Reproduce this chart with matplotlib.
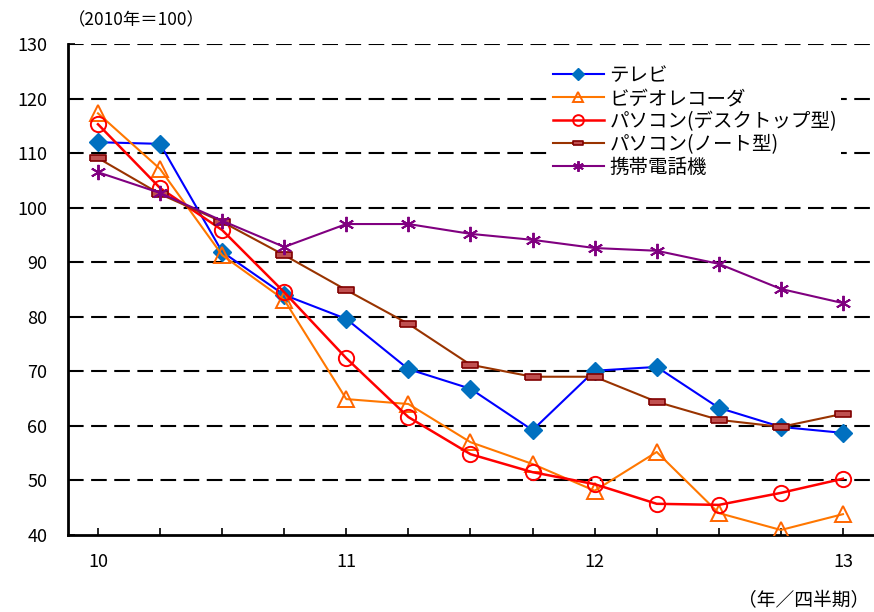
import numpy as np
import matplotlib
matplotlib.use('Agg')
import matplotlib.pyplot as plt

plt.rcParams['font.family'] = ['Noto Sans CJK JP', 'DejaVu Sans']

# quarters from 2010Q1 to 2013Q1
quarters = np.arange(13)
tick_labels = ['10', '', '', '', '11', '', '', '', '12', '', '', '', '13']

tv = [112.0, 111.7, 91.9, 84.0, 79.6, 70.4, 66.8, 59.2, 70.1, 70.8, 63.3, 59.8, 58.7]
video = [117.3, 107.1, 91.3, 83.1, 64.9, 64.0, 57.0, 53.0, 48.1, 55.2, 44.0, 40.9, 43.8]
pc_desk = [115.3, 103.6, 95.9, 84.5, 72.4, 61.6, 54.8, 51.5, 49.3, 45.7, 45.5, 47.7, 50.3]
pc_note = [109.1, 102.5, 97.4, 91.3, 84.9, 78.7, 71.2, 69.0, 69.0, 64.4, 61.1, 59.8, 62.2]
mobile = [106.5, 102.7, 97.6, 92.8, 97.0, 97.0, 95.2, 94.1, 92.6, 92.1, 89.7, 85.1, 82.5]

labels = ['テレビ', 'ビデオレコーダ', 'パソコン(デスクトップ型)', 'パソコン(ノート型)', '携帯電話機']

rect = [(-1, -0.4), (1, -0.4), (1, 0.4), (-1, 0.4), (-1, -0.4)]

fig = plt.figure(figsize=(8.74, 6.12), dpi=100)
ax = fig.add_axes([0.078, 0.126, 0.922, 0.802])

for v in range(50, 131, 10):
    ax.axhline(v, color='black', lw=1.5, dashes=(7.5, 3.6), zorder=1)

ax.plot(quarters, tv, color='#0000FF', lw=1.5, marker='D', ms=9,
        mfc='#0070C0', mec='#0070C0', label=labels[0], zorder=3)
ax.plot(quarters, video, color='#FF7700', lw=1.5, marker='^', ms=11,
        mfc='none', mec='#FF6600', mew=1.4, label=labels[1], zorder=3)
ax.plot(quarters, pc_desk, color='#FF0000', lw=1.8, marker='o', ms=11,
        mfc='none', mec='#FF0000', mew=1.4, label=labels[2], zorder=3)
ax.plot(quarters, pc_note, color='#993300', lw=1.5, marker=rect, ms=11,
        mfc='#C05050', mec='#800000', mew=1.2, label=labels[3], zorder=3)
ax.plot(quarters, mobile, color='#800080', lw=1.5, marker=(6, 2, 0), ms=11,
        mec='#800080', mew=1.4, label=labels[4], zorder=3)

ax.set_xlim(-0.48, 12.5)
ax.set_ylim(40, 130)
ax.set_yticks(range(40, 131, 10))
ax.set_xticks(quarters)
ax.set_xticklabels(tick_labels)
ax.tick_params(axis='both', direction='in', length=5, width=1.2, labelsize=13)
ax.tick_params(axis='x', pad=13)
ax.tick_params(axis='y', pad=15)

for s in ['top', 'right']:
    ax.spines[s].set_visible(False)
for s in ['left', 'bottom']:
    ax.spines[s].set_linewidth(2)

leg = ax.legend(loc='upper left', bbox_to_anchor=(0.585, 0.985), frameon=True,
                fancybox=False, edgecolor='none', facecolor='white', framealpha=1,
                fontsize=14, handlelength=2.6, labelspacing=0.1, borderpad=0.2,
                handletextpad=0.3, markerscale=0.7)
leg.set_zorder(5)

fig.text(0.078, 0.966, '（2010年＝100）', fontsize=12.5, ha='left', va='center')
fig.text(0.995, 0.018, '（年／四半期）', fontsize=13.5, ha='right', va='center')

fig.savefig('out.png', dpi=100)
